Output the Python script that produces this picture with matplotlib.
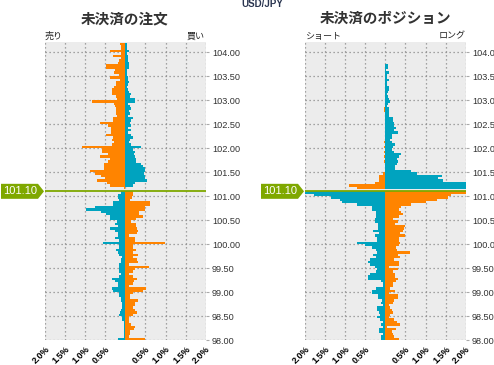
import matplotlib
matplotlib.use("Agg")
import matplotlib.pyplot as plt
from matplotlib.patches import Polygon
import numpy as np

plt.rcParams['font.family'] = ['Liberation Sans', 'Noto Sans CJK JP', 'DejaVu Sans']

ORANGE = '#ff8400'
TEAL = '#00a3bf'
GREEN = '#7fa800'
W, H = 494, 365

current_price = 101.10
# bin bottoms, from the top of the chart (104.15) down to 98.00, step 0.05
price_bins = np.round(104.15 - 0.05 * np.arange(124), 2)

# open orders (%), left = sell side, right = buy side
order_sell = [
    0.14, 0.10, 0.10, 0.39, 0.10, 0.31, 0.10, 0.16, 0.18, 0.49,
    0.49, 0.27, 0.29, 0.16, 0.37, 0.14, 0.24, 0.24, 0.29, 0.34,
    0.34, 0.34, 0.24, 0.22, 0.84, 0.28, 0.27, 0.24, 0.24, 0.24,
    0.22, 0.31, 0.31, 0.62, 0.42, 0.35, 0.35, 0.35, 0.48, 0.31,
    0.33, 0.29, 0.33, 1.09, 0.59, 0.59, 0.43, 0.62, 0.39, 0.44,
    0.54, 0.54, 0.54, 0.89, 0.75, 0.60, 0.50, 0.70, 0.45, 0.38,
    0.04, 0.00,
    0.10, 0.18, 0.18, 0.15, 0.30, 0.30, 0.75, 0.97, 0.60, 0.48,
    0.38, 0.38, 0.22, 0.25, 0.19, 0.38, 0.25, 0.19, 0.19, 0.25,
    0.15, 0.55, 0.15, 0.17, 0.23, 0.19, 0.17, 0.09, 0.11, 0.11,
    0.15, 0.15, 0.17, 0.15, 0.11, 0.15, 0.34, 0.25, 0.19, 0.19,
    0.34, 0.30, 0.15, 0.15, 0.11, 0.11, 0.08, 0.08, 0.08, 0.11,
    0.13, 0.15, 0.08, 0.08, 0.04, 0.04, 0.04, 0.04, 0.04, 0.04,
    0.04, 0.19,
]
order_buy = [
    0.03, 0.03, 0.03, 0.08, 0.03, 0.07, 0.07, 0.07, 0.08, 0.08,
    0.08, 0.05, 0.05, 0.03, 0.07, 0.07, 0.08, 0.06, 0.05, 0.07,
    0.08, 0.15, 0.11, 0.23, 0.23, 0.07, 0.11, 0.13, 0.08, 0.11,
    0.07, 0.18, 0.15, 0.11, 0.15, 0.07, 0.15, 0.07, 0.13, 0.19,
    0.11, 0.08, 0.15, 0.38, 0.18, 0.23, 0.21, 0.23, 0.26, 0.26,
    0.38, 0.44, 0.48, 0.48, 0.46, 0.48, 0.50, 0.54, 0.23, 0.18,
    0.00, 0.00,
    0.20, 0.20, 0.17, 0.11, 0.62, 0.62, 0.49, 0.49, 0.35, 0.35,
    0.43, 0.27, 0.14, 0.27, 0.27, 0.28, 0.31, 0.28, 0.10, 0.25,
    0.25, 0.98, 0.20, 0.18, 0.27, 0.18, 0.31, 0.18, 0.29, 0.31,
    0.10, 0.58, 0.25, 0.20, 0.10, 0.20, 0.28, 0.22, 0.18, 0.10,
    0.52, 0.43, 0.20, 0.12, 0.12, 0.31, 0.25, 0.25, 0.20, 0.25,
    0.28, 0.20, 0.10, 0.08, 0.08, 0.14, 0.25, 0.22, 0.12, 0.12,
    0.10, 0.48,
]

# open positions (%), left = short, right = long
pos_short = [
    0, 0, 0, 0, 0, 0, 0, 0, 0, 0,
    0, 0, 0, 0, 0, 0, 0, 0, 0, 0,
    0, 0, 0, 0, 0, 0, 0, 0.03, 0.03, 0,
    0, 0, 0, 0, 0, 0, 0, 0, 0, 0,
    0, 0.03, 0, 0.03, 0, 0.03, 0, 0.03, 0, 0.03,
    0, 0, 0, 0, 0.06, 0.17, 0.17, 0.17, 0.26, 0.91,
    0.70, 0.00,
    2.20, 1.78, 1.36, 1.13, 1.07, 0.70, 0.34, 0.34, 0.23, 0.23,
    0.23, 0.26, 0.26, 0.18, 0.18, 0.18, 0.30, 0.15, 0.26, 0.20,
    0.20, 0.70, 0.50, 0.33, 0.23, 0.22, 0.30, 0.23, 0.37, 0.43,
    0.38, 0.27, 0.22, 0.23, 0.37, 0.43, 0.43, 0.11, 0.07, 0.05,
    0.23, 0.32, 0.32, 0.18, 0.18, 0.08, 0.12, 0.07, 0.20, 0.20,
    0.17, 0.13, 0.20, 0.13, 0.07, 0.10, 0.07, 0.15, 0.15, 0.05,
    0.10, 0.10,
]
pos_long = [
    0, 0, 0, 0, 0, 0, 0, 0, 0, 0.06,
    0.07, 0.02, 0.09, 0.03, 0.05, 0.09, 0.05, 0.03, 0.09, 0.09,
    0.07, 0.05, 0.07, 0.10, 0.12, 0.07, 0.05, 0.09, 0.09, 0.08,
    0.08, 0.18, 0.18, 0.22, 0.22, 0.27, 0.22, 0.32, 0.17, 0.17,
    0.12, 0.17, 0.24, 0.20, 0.17, 0.22, 0.38, 0.35, 0.30, 0.32,
    0.30, 0.23, 0.23, 0.64, 0.78, 1.41, 1.30, 1.43, 2.20, 2.20,
    2.20, 0.00,
    2.20, 1.63, 1.57, 1.28, 1.02, 0.64, 0.38, 0.35, 0.38, 0.43,
    0.35, 0.20, 0.31, 0.23, 0.50, 0.47, 0.45, 0.37, 0.49, 0.34,
    0.33, 0.37, 0.33, 0.27, 0.28, 0.62, 0.32, 0.37, 0.22, 0.33,
    0.33, 0.09, 0.31, 0.18, 0.24, 0.24, 0.31, 0.27, 0.18, 0.20,
    0.12, 0.24, 0.10, 0.31, 0.31, 0.22, 0.20, 0.08, 0.12, 0.17,
    0.18, 0.12, 0.10, 0.22, 0.30, 0.37, 0.05, 0.27, 0.17, 0.18,
    0.22, 0.34,
]

x_ticks = [-2.0, -1.5, -1.0, -0.5, 0.0, 0.5, 1.0, 1.5, 2.0]
x_ticklabels = ['2.0%', '1.5%', '1.0%', '0.5%', '', '0.5%', '1.0%', '1.5%', '2.0%']
y_ticks = np.arange(98.0, 104.01, 0.5)


def draw_panel(ax, left_vals, right_vals):
    left_vals = np.array(left_vals)
    right_vals = np.array(right_vals)
    above = price_bins >= current_price - 1e-9
    ax.barh(price_bins, -left_vals, height=0.05, align='edge',
            color=np.where(above, ORANGE, TEAL), lw=0, zorder=2)
    ax.barh(price_bins, right_vals, height=0.05, align='edge',
            color=np.where(above, TEAL, ORANGE), lw=0, zorder=2)
    ax.set_xlim(-2, 2)
    ax.set_ylim(98, 104.22)
    ax.set_facecolor('#ececec')
    for s in ax.spines.values():
        s.set_visible(False)
    ax.set_xticks(x_ticks)
    ax.set_xticklabels(x_ticklabels, rotation=45, ha='right', va='top',
                       rotation_mode='anchor', fontsize=6.5, fontweight='bold')
    ax.set_yticks(y_ticks)
    ax.set_yticklabels([f'{v:.2f}' for v in y_ticks], fontsize=6.6, color='#333333')
    ax.yaxis.tick_right()
    ax.tick_params(axis='x', length=0, pad=3)
    ax.tick_params(axis='y', length=2, color='#aaaaaa', pad=2.5)
    ax.grid(True, ls=(0, (1, 2.2)), color='#8a8a8a', lw=0.9, zorder=1)
    ax.set_axisbelow(True)
    ax.axhline(current_price, color=GREEN, lw=1.3, zorder=3)


fig = plt.figure(figsize=(W / 100, H / 100), dpi=100)
ax1 = fig.add_axes([45 / W, 25 / H, 160.7 / W, 298.3 / H])
ax2 = fig.add_axes([305 / W, 25 / H, 160.7 / W, 298.3 / H])
draw_panel(ax1, order_sell, order_buy)
draw_panel(ax2, pos_short, pos_long)

cjk = ['Noto Sans CJK JP', 'DejaVu Sans']
fig.text(262 / W, 1 - 4 / H, 'USD/JPY', ha='center', va='center', fontsize=7,
         fontweight='bold', color='#2a3550')
fig.text(125 / W, 1 - 18 / H, '未決済の注文', ha='center', va='center',
         fontsize=10.5, fontweight='bold', color='#333333', family=cjk)
fig.text(385 / W, 1 - 18 / H, '未決済のポジション', ha='center', va='center',
         fontsize=10.5, fontweight='bold', color='#333333', family=cjk)
fig.text(45 / W, 1 - 36 / H, '売り', ha='left', va='center', fontsize=6.5, color='#222222', family=cjk)
fig.text(205 / W, 1 - 36 / H, '買い', ha='right', va='center', fontsize=6.5, color='#222222', family=cjk)
fig.text(305 / W, 1 - 36 / H, 'ショート', ha='left', va='center', fontsize=6.5, color='#222222', family=cjk)
fig.text(466 / W, 1 - 36 / H, 'ロング', ha='right', va='center', fontsize=6.5, color='#222222', family=cjk)

# current price tags
fig.canvas.draw()
for ax in (ax1, ax2):
    x0 = ax.get_window_extent().x0
    y = ax.transData.transform((0, current_price))[1]
    tag = Polygon([(x0 - 44, y - 7.5), (x0 - 7, y - 7.5), (x0 - 1, y),
                   (x0 - 7, y + 7.5), (x0 - 44, y + 7.5)],
                  closed=True, fc=GREEN, ec='none', transform=None)
    fig.add_artist(tag)
    fig.text((x0 - 25) / W, y / H, f'{current_price:.2f}', ha='center', va='center',
             fontsize=8, color='white')

fig.savefig('out.png', dpi=100)
